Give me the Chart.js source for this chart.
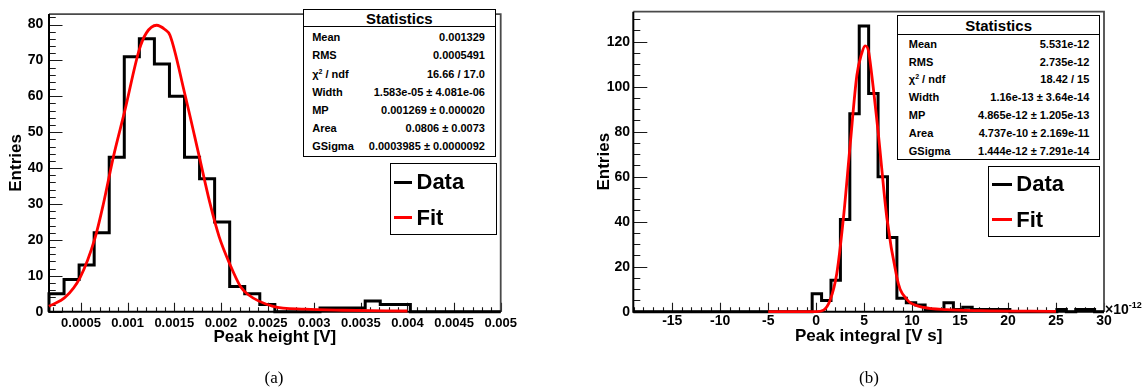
<!DOCTYPE html>
<html>
<head>
<meta charset="utf-8">
<script src="https://cdn.jsdelivr.net/npm/chart.js@4.4.1/dist/chart.umd.min.js"></script>
<style>
  html, body { margin: 0; padding: 0; background: #fff; }
  body { width: 1148px; height: 392px; position: relative; overflow: hidden;
         font-family: "Liberation Sans", Arial, Helvetica, sans-serif; color: #000; }
  canvas { position: absolute; top: 0; }
  .box { position: absolute; box-sizing: border-box; border: 1px solid #000; background: #fff; }
  .st-title { position: absolute; left: 0; right: 0; text-align: center; font-weight: bold; font-size: 15px; }
  .st-sep { position: absolute; left: 0; right: 0; border-top: 1px solid #000; }
  .st-row { position: absolute; font-weight: bold; font-size: 11px; white-space: nowrap; }
  .st-row sup { font-size: 7px; vertical-align: 4px; line-height: 0; }
  .lg-row { position: absolute; font-weight: bold; font-size: 22px; white-space: nowrap; }
  .lg-line { position: absolute; height: 3px; }
  .cap { position: absolute; font-family: "Liberation Serif", "Times New Roman", serif; font-size: 17px; transform: translate(-50%, -50%); }
  .exp { position: absolute; font-weight: bold; font-size: 14px; white-space: nowrap; }
  .exp sup { font-size: 9px; vertical-align: 6px; line-height: 0; }
</style>
</head>
<body>
<canvas id="chartA" width="574" height="392" style="left:0px"></canvas>
<canvas id="chartB" width="574" height="392" style="left:574px"></canvas>
<script>
// ================= DATA =================
// Panel (a): Peak height [V]
const rangeA = [0.000157, 0.005];
const countsA = [5, 9, 13, 22, 43, 71, 76, 69, 60, 43, 37, 25, 7, 5, 2, 0, 0, 0, 1, 1, 1, 3, 2, 2, 0, 0, 0, 0, 0, 0];
const fitXA = [0.000157, 0.00033, 0.00049, 0.00065, 0.00074, 0.000846, 0.00097, 0.001125, 0.0012, 0.00131, 0.0014, 0.001454, 0.00161, 0.00177, 0.00188, 0.00198, 0.0021, 0.00221, 0.00228, 0.00256, 0.0029, 0.0033, 0.004];
const fitYA = [1.5, 4, 9.5, 20.5, 30, 43, 56, 73, 77.6, 79.8, 78.6, 77, 61, 43, 30.5, 21, 13, 7, 5, 1.5, 0.7, 0.4, 0.2];
const xTicksA = [0.0005, 0.001, 0.0015, 0.002, 0.0025, 0.003, 0.0035, 0.004, 0.0045, 0.005];
const xLabelsA = ['0.0005', '0.001', '0.0015', '0.002', '0.0025', '0.003', '0.0035', '0.004', '0.0045', '0.005'];
const yTicksA = [0, 10, 20, 30, 40, 50, 60, 70, 80];
const yLabelsA = ['0', '10', '20', '30', '40', '50', '60', '70', '80'];
const yMaxA = 82.9;
const statsLabelsA = ['Mean', 'RMS', 'χ<sup>2</sup> / ndf', 'Width', 'MP', 'Area', 'GSigma'];
const statsValuesA = ['0.001329', '0.0005491', '16.66 / 17.0', '1.583e-05 ± 4.081e-06', '0.001269 ± 0.000020', '0.0806 ± 0.0073', '0.0003985 ± 0.0000092'];

// Panel (b): Peak integral [V s] (x in units of 1e-12)
const rangeB = [-19.06, 30];
const countsB = [0, 0, 0, 0, 0, 0, 0, 0, 0, 0, 0, 0, 0, 0, 0, 0, 0, 0, 0,
                 8, 5, 14, 41, 88, 127, 97, 60, 33, 6,
                 4, 3, 1, 1, 4, 1, 2, 1, 1, 1,
                 1, 0, 0, 0, 0, 0, 1, 0, 1, 1, 0];
const fitXB = [-5, 0, 0.76, 1.46, 2.15, 2.85, 3.54, 4.24, 4.76, 5.1, 5.45, 5.8, 6.49, 7.36, 8.4, 8.75, 9.45, 9.8, 11.2, 13.6, 17.1, 25];
const fitYB = [0, 0.05, 0.7, 5.2, 17, 42, 74, 105, 115, 118.2, 116, 105, 78.6, 42, 15.4, 10, 5.5, 4, 1.9, 0.9, 0.45, 0.15];
const xTicksB = [-15, -10, -5, 0, 5, 10, 15, 20, 25, 30];
const xLabelsB = ['-15', '-10', '-5', '0', '5', '10', '15', '20', '25', '30'];
const yTicksB = [0, 20, 40, 60, 80, 100, 120];
const yLabelsB = ['0', '20', '40', '60', '80', '100', '120'];
const yMaxB = 133.35;
const statsLabelsB = ['Mean', 'RMS', 'χ<sup>2</sup> / ndf', 'Width', 'MP', 'Area', 'GSigma'];
const statsValuesB = ['5.531e-12', '2.735e-12', '18.42 / 15', '1.16e-13 ± 3.64e-14', '4.865e-12 ± 1.205e-13', '4.737e-10 ± 2.169e-11', '1.444e-12 ± 7.291e-14'];

const legendLabels = ['Data', 'Fit'];
const legendColors = ['#000000', '#ff0000'];

// ================= HELPERS =================
const FONT = '"Liberation Sans", Arial, Helvetica, sans-serif';

function histPoints(range, counts) {
  const w = (range[1] - range[0]) / counts.length;
  const pts = [{x: range[0], y: 0}];
  counts.forEach((c, i) => {
    pts.push({x: range[0] + i * w, y: c});
    pts.push({x: range[0] + (i + 1) * w, y: c});
  });
  pts.push({x: range[1], y: 0});
  return pts;
}

const framePlugin = {
  id: 'rootFrame',
  beforeDatasetsDraw(chart, args, o) {
    const {ctx, chartArea: a} = chart;
    const xs = chart.scales.x, ys = chart.scales.y;
    ctx.save();
    ctx.lineCap = 'butt';
    ctx.strokeStyle = '#1a1a1a';
    ctx.lineWidth = 1.1;
    ctx.beginPath();
    const isMaj = (v, s) => Math.abs(v / s - Math.round(v / s)) < 1e-6;
    let k0 = Math.ceil(xs.min / o.xMinor - 1e-6), k1 = Math.floor(xs.max / o.xMinor + 1e-6);
    for (let k = k0; k <= k1; k++) {
      const v = k * o.xMinor;
      const px = Math.round(xs.getPixelForValue(v)) + 0.5;
      const len = isMaj(v, o.xMajor) ? o.xLen : o.xLen / 2;
      ctx.moveTo(px, a.bottom);
      ctx.lineTo(px, a.bottom - len);
    }
    k0 = Math.ceil(ys.min / o.yMinor - 1e-6); k1 = Math.floor(ys.max / o.yMinor + 1e-6);
    for (let k = k0; k <= k1; k++) {
      const v = k * o.yMinor;
      const py = Math.round(ys.getPixelForValue(v)) + 0.5;
      const len = isMaj(v, o.yMajor) ? o.yLen : o.yLen / 2;
      ctx.moveTo(a.left, py);
      ctx.lineTo(a.left + len, py);
    }
    ctx.stroke();
    ctx.strokeStyle = '#4a4a4a';
    ctx.lineWidth = 1.8;
    ctx.beginPath();
    ctx.moveTo(a.left, a.top); ctx.lineTo(a.right, a.top); ctx.lineTo(a.right, a.bottom);
    ctx.stroke();
    ctx.strokeStyle = '#000';
    ctx.lineWidth = 2;
    ctx.beginPath();
    ctx.moveTo(a.left, a.top); ctx.lineTo(a.left, a.bottom); ctx.lineTo(a.right, a.bottom);
    ctx.stroke();
    ctx.restore();
  }
};

function makeChart(id, p) {
  const fitPts = p.fitX.map((x, i) => ({x: x, y: p.fitY[i]}));
  return new Chart(document.getElementById(id), {
    type: 'line',
    data: {
      datasets: [
        { label: 'Fit', data: fitPts, borderColor: '#ff0000', borderWidth: 2.8,
          cubicInterpolationMode: 'monotone', pointRadius: 0, fill: false, clip: false },
        { label: 'Data', data: histPoints(p.range, p.counts), borderColor: '#000000', borderWidth: 3,
          tension: 0, pointRadius: 0, fill: false, clip: false, borderJoinStyle: 'miter' }
      ]
    },
    options: {
      responsive: false,
      devicePixelRatio: 1,
      animation: false,
      layout: { padding: p.padding },
      plugins: { legend: { display: false }, tooltip: { enabled: false }, rootFrame: p.frame },
      elements: { point: { radius: 0 } },
      scales: {
        x: {
          type: 'linear', min: p.range[0], max: p.range[1],
          afterBuildTicks: s => { s.ticks = p.xTicks.map(v => ({value: v})); },
          afterFit: s => { s.height = p.xHeight; },
          grid: { display: false, drawTicks: false },
          border: { display: false },
          ticks: { autoSkip: false, maxRotation: 0, minRotation: 0, padding: p.xTickPad, color: '#000',
                   font: { family: FONT, size: p.xTickSize, weight: 'bold' },
                   callback: v => p.xLabels[p.xTicks.indexOf(v)] },
          title: { display: true, text: p.xTitle, color: '#000',
                   font: { family: FONT, size: 17, weight: 'bold' },
                   padding: { top: 0, bottom: p.xTitlePad } }
        },
        y: {
          type: 'linear', min: 0, max: p.yMax,
          afterBuildTicks: s => { s.ticks = p.yTicks.map(v => ({value: v})); },
          afterFit: s => { s.width = p.yWidth; },
          grid: { display: false, drawTicks: false },
          border: { display: false },
          ticks: { autoSkip: false, padding: p.yTickPad, color: '#000',
                   font: { family: FONT, size: 14, weight: 'bold' },
                   callback: v => p.yLabels[p.yTicks.indexOf(v)] },
          title: { display: true, text: 'Entries', color: '#000',
                   font: { family: FONT, size: 17, weight: 'bold' },
                   padding: { top: p.yTitlePad, bottom: 0 } }
        }
      }
    },
    plugins: [framePlugin]
  });
}

makeChart('chartA', {
  range: rangeA, counts: countsA, fitX: fitXA, fitY: fitYA,
  xTicks: xTicksA, xLabels: xLabelsA, yTicks: yTicksA, yLabels: yLabelsA, yMax: yMaxA,
  xTitle: 'Peak height [V]',
  padding: { left: 0, top: 5, right: 73.3, bottom: 0 },
  xHeight: 80.3, yWidth: 49, xTickPad: 3.8, xTickSize: 13, yTickPad: 5.7,
  xTitlePad: 44.3, yTitlePad: 6.5,
  frame: { xMinor: 0.0001, xMajor: 0.0005, yMinor: 2, yMajor: 10, xLen: 9, yLen: 13.5 }
});

makeChart('chartB', {
  range: rangeB, counts: countsB, fitX: fitXB, fitY: fitYB,
  xTicks: xTicksB, xLabels: xLabelsB, yTicks: yTicksB, yLabels: yLabelsB, yMax: yMaxB,
  xTitle: 'Peak integral [V s]',
  padding: { left: 0, top: 9, right: 44, bottom: 0 },
  xHeight: 80.3, yWidth: 59.3, xTickPad: 0.8, xTickSize: 14, yTickPad: 3.3,
  xTitlePad: 45.1, yTitlePad: 19.8,
  frame: { xMinor: 1, xMajor: 5, yMinor: 5, yMajor: 20, xLen: 9, yLen: 14 }
});

// ================= OVERLAYS (statistics boxes, legends, captions) =================
function el(cls, style, html) {
  const d = document.createElement('div');
  d.className = cls;
  Object.assign(d.style, style);
  if (html !== undefined) d.innerHTML = html;
  return d;
}

function statsBox(b, labels, values) {
  const box = el('box', { left: b.left + 'px', top: b.top + 'px', width: b.w + 'px', height: b.h + 'px' });
  box.appendChild(el('st-title', { top: (b.titleCY - 9) + 'px', height: '18px', lineHeight: '18px' }, 'Statistics'));
  box.appendChild(el('st-sep', { top: b.sep + 'px' }));
  labels.forEach((lab, i) => {
    const cy = b.rowStart + i * b.pitch;
    box.appendChild(el('st-row', { left: b.padL + 'px', top: (cy - 8) + 'px', height: '16px', lineHeight: '16px' }, lab));
    box.appendChild(el('st-row', { right: b.padR + 'px', top: (cy - 8) + 'px', height: '16px', lineHeight: '16px', textAlign: 'right' }, values[i]));
  });
  document.body.appendChild(box);
}

function legendBox(b) {
  const box = el('box', { left: b.left + 'px', top: b.top + 'px', width: b.w + 'px', height: b.h + 'px' });
  legendLabels.forEach((lab, i) => {
    const cy = b.rows[i];
    box.appendChild(el('lg-line', { left: b.lineL + 'px', width: b.lineW + 'px', top: (cy - 1.5) + 'px', background: legendColors[i] }));
    box.appendChild(el('lg-row', { left: b.textL + 'px', top: (cy - 13) + 'px', height: '26px', lineHeight: '26px' }, lab));
  });
  document.body.appendChild(box);
}

statsBox({ left: 302.7, top: 9.3, w: 193.3, h: 147.4, titleCY: 9.2, sep: 16.2, rowStart: 26.9, pitch: 18.2, padL: 8.5, padR: 10 }, statsLabelsA, statsValuesA);
statsBox({ left: 897.3, top: 15, w: 202.7, h: 145, titleCY: 10.3, sep: 17.8, rowStart: 27.8, pitch: 17.8, padL: 10.5, padR: 9.7 }, statsLabelsB, statsValuesB);

legendBox({ left: 390, top: 162.7, w: 106.7, h: 72.3, rows: [18.5, 54.3], lineL: 2.5, lineW: 18.5, textL: 25.5 });
legendBox({ left: 988.3, top: 165.7, w: 111.7, h: 71.6, rows: [17.8, 53.1], lineL: 3, lineW: 20, textL: 27 });

document.body.appendChild(el('cap', { left: '274px', top: '378px' }, '(a)'));
document.body.appendChild(el('cap', { left: '869px', top: '378px' }, '(b)'));
document.body.appendChild(el('exp', { left: '1105px', top: '300px', height: '18px', lineHeight: '18px' }, '×10<sup>-12</sup>'));
</script>
</body>
</html>
